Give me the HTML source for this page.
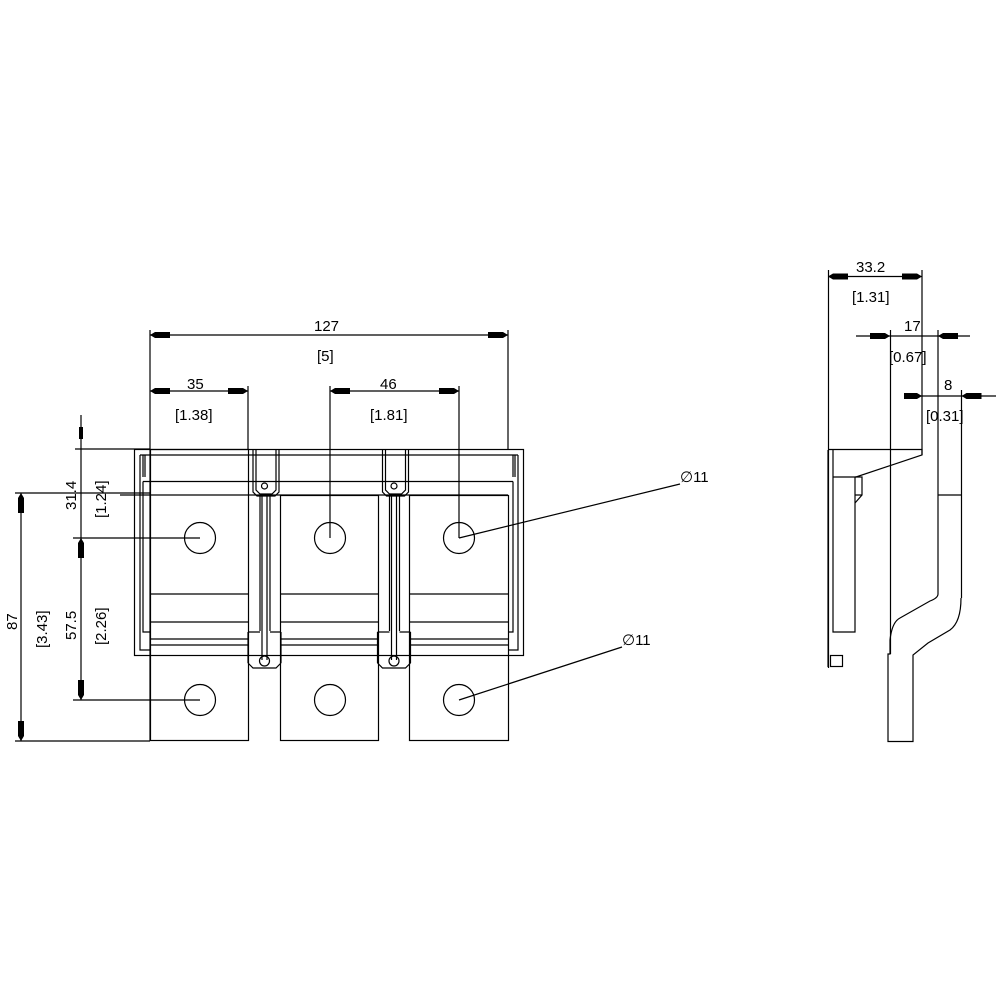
<!DOCTYPE html>
<html><head><style>html,body{margin:0;background:#fff}svg{display:block}
text{font-family:"Liberation Sans",sans-serif;font-size:15px;fill:#000}</style></head>
<body>
<svg width="1000" height="1000" viewBox="0 0 1000 1000" xmlns="http://www.w3.org/2000/svg">
<g stroke="#000" stroke-width="1.2" fill="none">
<line x1="150" y1="330" x2="150" y2="741"/>
<line x1="508" y1="330" x2="508" y2="449"/>
<line x1="150" y1="335" x2="508" y2="335"/>
<line x1="248" y1="386" x2="248" y2="449"/>
<line x1="150" y1="391" x2="248" y2="391"/>
<line x1="330" y1="386" x2="330" y2="538"/>
<line x1="459" y1="386" x2="459" y2="538"/>
<line x1="330" y1="391" x2="459" y2="391"/>
<line x1="15" y1="493" x2="150" y2="493"/>
<line x1="15" y1="741" x2="150" y2="741"/>
<line x1="21" y1="493" x2="21" y2="741"/>
<line x1="75" y1="449" x2="150" y2="449"/>
<line x1="73" y1="538" x2="200" y2="538"/>
<line x1="73" y1="700" x2="200" y2="700"/>
<line x1="81" y1="415" x2="81" y2="700"/>
<rect x="134.5" y="449.5" width="389" height="206"/>
<line x1="140" y1="455" x2="518" y2="455"/>
<path d="M140,455 V650 H150 M518,455 V650 H508"/>
<path d="M143,455 V477 M145,455 V477 M513,455 V477 M515,455 V477"/>
<path d="M143,481.5 H513 M143,481.5 V632 H150 M513,481.5 V632 H508"/>
<line x1="120" y1="495" x2="508" y2="495"/>
<rect x="150.5" y="449.5" width="98" height="291"/>
<rect x="280.5" y="495.5" width="98" height="245"/>
<rect x="409.5" y="495.5" width="99" height="245"/>
<path d="M150,594 H248 M281,594 H378 M410,594 H508"/>
<path d="M150,622 H248 M281,622 H378 M410,622 H508"/>
<path d="M150,639 H248 M281,639 H378 M410,639 H508"/>
<path d="M150,645 H248 M281,645 H378 M410,645 H508"/>
<g>
<path d="M256,449 V490 l4,4 H272 l4,-4 V449 M253,449 V492 l4,4 H275 l4,-4 V449"/>
<circle cx="264.5" cy="486" r="3"/>
<path d="M260,496 V631 M270,496 V631 M262,496 V660 M267,496 V660"/>
<circle cx="264.5" cy="661" r="5"/>
<path d="M248,632 H260 M270,632 H281 M248,663 l5,5 H276 l5,-5 M248,632 V663 M281,632 V663"/>
</g>
<g transform="translate(129.5,0)">
<path d="M256,449 V490 l4,4 H272 l4,-4 V449 M253,449 V492 l4,4 H275 l4,-4 V449"/>
<circle cx="264.5" cy="486" r="3"/>
<path d="M260,496 V631 M270,496 V631 M262,496 V660 M267,496 V660"/>
<circle cx="264.5" cy="661" r="5"/>
<path d="M248,632 H260 M270,632 H281 M248,663 l5,5 H276 l5,-5 M248,632 V663 M281,632 V663"/>
</g>
<circle cx="200" cy="538" r="15.5"/><circle cx="330" cy="538" r="15.5"/><circle cx="459" cy="538" r="15.5"/>
<circle cx="200" cy="700" r="15.5"/><circle cx="330" cy="700" r="15.5"/><circle cx="459" cy="700" r="15.5"/>
<line x1="459" y1="538" x2="680" y2="484"/>
<line x1="459" y1="700" x2="622" y2="647"/>
<line x1="828.5" y1="270" x2="828.5" y2="668"/>
<line x1="922" y1="270" x2="922" y2="455"/>
<line x1="828" y1="276.5" x2="922" y2="276.5"/>
<line x1="856" y1="336" x2="970" y2="336"/>
<line x1="890.5" y1="330" x2="890.5" y2="654"/>
<line x1="938" y1="330" x2="938" y2="594"/>
<line x1="904" y1="396" x2="996" y2="396"/>
<line x1="961.5" y1="390" x2="961.5" y2="598"/>
<path d="M828,449.5 H922 V455 L856,477 H833"/>
<path d="M828,450 V667 M833,450 V632 H855 V477"/>
<path d="M855,477 H862 V495 L855,503 M855,495 H862"/>
<rect x="830.5" y="655.5" width="12" height="11"/>
<path d="M938,495 H961"/>
<path d="M938,594 Q938,598 930,601 L900,618 Q892,622 890,640 L890,654 H888 V741.5 H913 V655 L928,643 L950,630 Q961,622 961,598"/>
</g>
<g fill="#000">
<path d="M150,335 l5,-3 h15 v6 h-15 z M508,335 l-5,-3 h-15 v6 h15 z"/>
<path d="M150,391 l5,-3 h15 v6 h-15 z M248,391 l-5,-3 h-15 v6 h15 z"/>
<path d="M330,391 l5,-3 h15 v6 h-15 z M459,391 l-5,-3 h-15 v6 h15 z"/>
<path d="M21,493 l-3,5 v15 h6 v-15 z M21,741 l-3,-5 v-15 h6 v15 z"/>
<path d="M81,538 l-3,5 v15 h6 v-15 z M81,700 l-3,-5 v-15 h6 v15 z"/>
<path d="M79,427 h4 v12 h-4z"/>
<path d="M828,276.5 l5,-3 h15 v6 h-15 z M922,276.5 l-5,-3 h-15 v6 h15 z"/>
<path d="M890,336 l-5,-3 h-15 v6 h15 z M938,336 l5,-3 h15 v6 h-15 z"/>
<path d="M922,396 l-5,-3 h-13 v6 h13 z M961.5,396 l5,-3 h15 v6 h-15 z"/>
</g>
<text x="314" y="331">127</text>
<text x="317" y="361">[5]</text>
<text x="187" y="389">35</text>
<text x="175" y="420">[1.38]</text>
<text x="380" y="389">46</text>
<text x="370" y="420">[1.81]</text>
<text x="680" y="482">∅11</text>
<text x="622" y="645">∅11</text>
<text transform="translate(17,630) rotate(-90)">87</text>
<text transform="translate(47,648) rotate(-90)">[3.43]</text>
<text transform="translate(76,640) rotate(-90)">57.5</text>
<text transform="translate(106,645) rotate(-90)">[2.26]</text>
<text transform="translate(76,510) rotate(-90)">31.4</text>
<text transform="translate(106,518) rotate(-90)">[1.24]</text>
<text x="856" y="272">33.2</text>
<text x="852" y="302">[1.31]</text>
<text x="904" y="331">17</text>
<text x="889" y="362">[0.67]</text>
<text x="944" y="390">8</text>
<text x="926" y="421">[0.31]</text>
</svg>
</body></html>
